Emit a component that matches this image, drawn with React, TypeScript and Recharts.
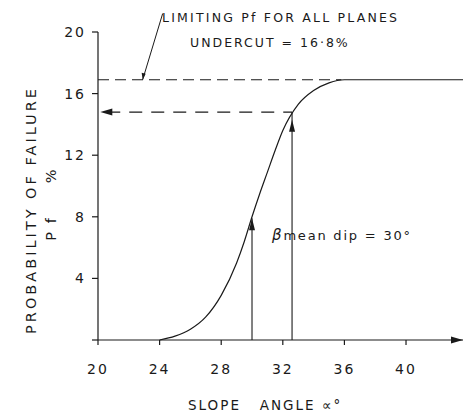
import {
    ComposedChart,
    Line,
    XAxis,
    YAxis,
    ReferenceLine,
    ReferenceDot,
} from "recharts";

// Probability of failure vs slope angle
const slopeAngle = [24, 25, 26, 27, 28, 29, 29.5, 30, 30.5, 31, 31.5, 32, 33, 34, 35, 36, 38, 40, 43.7];
const failureProb = [0, 0.25, 0.7, 1.5, 2.9, 5.0, 6.4, 8.0, 9.5, 10.9, 12.3, 13.6, 15.3, 16.2, 16.7, 16.9, 16.9, 16.9, 16.9];
const xTicks = [20, 24, 28, 32, 36, 40];
const yTicks = [0, 4, 8, 12, 16, 20];

// annotation values
const limitingPf = 16.9;
const limitingEnd = 35.8;
const meanDip = 30;
const meanDipArrowTop = 7.9;
const slopeDesign = 32.6;
const slopeDesignPf = 14.8;
const xMax = 43.7;

const data = slopeAngle.map((x, i) => ({ x, pf: failureProb[i] }));

const INK = "#1a1a1a";
const FONT = "'DejaVu Sans', sans-serif";

const upArrow = (p: any) => (
    <polygon
        points={`${p.cx},${p.cy} ${p.cx - 3},${p.cy + 12} ${p.cx + 3},${p.cy + 12}`}
        fill={INK}
    />
);
const leftArrow = (p: any) => (
    <polygon
        points={`${p.cx},${p.cy} ${p.cx + 12},${p.cy - 3.5} ${p.cx + 12},${p.cy + 3.5}`}
        fill={INK}
    />
);
const rightArrow = (p: any) => (
    <polygon
        points={`${p.cx},${p.cy} ${p.cx - 12},${p.cy - 3.5} ${p.cx - 12},${p.cy + 3.5}`}
        fill={INK}
    />
);
const smallArrowTip = (p: any) => (
    <polygon
        points={`${p.cx},${p.cy} ${p.cx - 1},${p.cy - 7} ${p.cx + 3},${p.cy - 6}`}
        fill={INK}
    />
);

export default function App() {
    return (
        <div style={{ position: "absolute", left: 0, top: 0, background: "#fff" }}>
            <ComposedChart
                width={465}
                height={414}
                data={data}
                margin={{ top: 32, right: 2, left: 38, bottom: 44 }}
                style={{ fontFamily: FONT }}
            >
                <XAxis
                    type="number"
                    dataKey="x"
                    domain={[20, xMax]}
                    ticks={xTicks}
                    allowDataOverflow
                    height={30}
                    tickSize={5}
                    tickMargin={19}
                    axisLine={{ stroke: INK, strokeWidth: 1.2 }}
                    tickLine={{ stroke: INK, strokeWidth: 1.2 }}
                    tick={{ fontSize: 14, fill: INK, letterSpacing: 2, fontFamily: FONT }}
                />
                <YAxis
                    type="number"
                    domain={[0, 20]}
                    ticks={yTicks}
                    width={60}
                    tickSize={6}
                    tickMargin={6}
                    tickFormatter={(v: number) => (v === 0 ? "" : String(v))}
                    axisLine={{ stroke: INK, strokeWidth: 1.2 }}
                    tickLine={{ stroke: INK, strokeWidth: 1.2 }}
                    tick={{ fontSize: 14, fill: INK, letterSpacing: 2, fontFamily: FONT }}
                />

                {/* limiting Pf dashed line */}
                <ReferenceLine
                    segment={[{ x: 20, y: limitingPf }, { x: limitingEnd, y: limitingPf }]}
                    stroke={INK}
                    strokeWidth={1.1}
                    strokeDasharray="11 6"
                />
                {/* leader from label to limiting line */}
                <ReferenceLine
                    segment={[{ x: 22.9, y: limitingPf }, { x: 24.2, y: 21.2 }]}
                    stroke={INK}
                    strokeWidth={1}
                    ifOverflow="visible"
                />
                <ReferenceDot x={22.9} y={limitingPf} r={0} shape={smallArrowTip} ifOverflow="visible" />

                {/* Pf read back at slope angle */}
                <ReferenceLine
                    segment={[{ x: 20.6, y: slopeDesignPf }, { x: slopeDesign, y: slopeDesignPf }]}
                    stroke={INK}
                    strokeWidth={1.1}
                    strokeDasharray="13 9"
                />
                <ReferenceDot x={20.15} y={slopeDesignPf} r={0} shape={leftArrow} />

                {/* vertical at slope angle */}
                <ReferenceLine
                    segment={[{ x: slopeDesign, y: 0 }, { x: slopeDesign, y: slopeDesignPf }]}
                    stroke={INK}
                    strokeWidth={1.1}
                />
                <ReferenceDot x={slopeDesign} y={14.3} r={0} shape={upArrow} />

                {/* vertical at mean dip */}
                <ReferenceLine
                    segment={[{ x: meanDip, y: 0 }, { x: meanDip, y: meanDipArrowTop }]}
                    stroke={INK}
                    strokeWidth={1.1}
                />
                <ReferenceDot x={meanDip} y={meanDipArrowTop} r={0} shape={upArrow} />

                {/* axis arrow */}
                <ReferenceDot x={xMax} y={0} r={0} shape={rightArrow} ifOverflow="visible" />

                <Line
                    type="monotone"
                    dataKey="pf"
                    stroke={INK}
                    strokeWidth={1.2}
                    dot={false}
                    activeDot={false}
                    isAnimationActive={false}
                />

                <text x={162} y={22} fontSize={12.5} letterSpacing={2.2} fill={INK} fontFamily={FONT}>
                    LIMITING Pf FOR ALL PLANES
                </text>
                <text x={190} y={47} fontSize={12.5} letterSpacing={2} fill={INK} fontFamily={FONT}>
                    UNDERCUT = 16·8%
                </text>
                <text x={272} y={240} fontSize={13} letterSpacing={1.8} fill={INK} fontFamily={FONT}>
                    <tspan fontStyle="italic" fontSize={15}>β</tspan>mean dip = 30°
                </text>
                <text x={188} y={410} fontSize={13.5} letterSpacing={2} fill={INK} fontFamily={FONT}>
                    SLOPE{"\u00a0\u00a0\u00a0"}ANGLE ∝°
                </text>
                <text
                    x={36}
                    y={210}
                    transform="rotate(-90 36 210)"
                    textAnchor="middle"
                    fontSize={14.5}
                    letterSpacing={3}
                    fill={INK}
                    fontFamily={FONT}
                >
                    PROBABILITY OF FAILURE
                </text>
                <text
                    x={56}
                    y={204}
                    transform="rotate(-90 56 204)"
                    textAnchor="middle"
                    fontSize={14.5}
                    letterSpacing={2}
                    fill={INK}
                    fontFamily={FONT}
                >
                    P f{"\u00a0\u00a0\u00a0\u00a0\u00a0"}%
                </text>
            </ComposedChart>
        </div>
    );
}
